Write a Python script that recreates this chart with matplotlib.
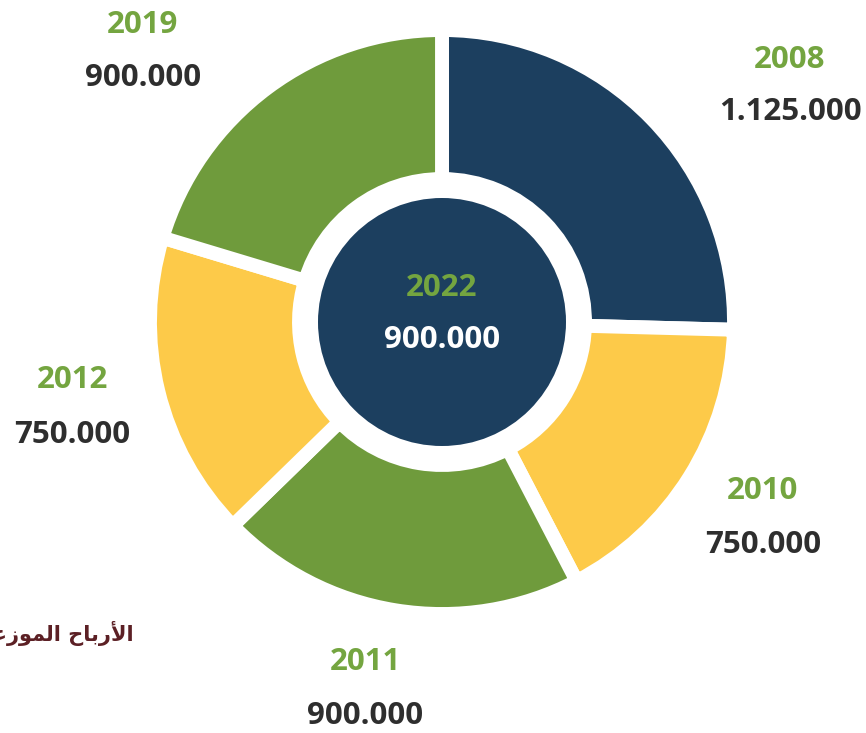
import matplotlib
matplotlib.use("Agg")
import matplotlib.pyplot as plt
from matplotlib.patches import Circle

years = ["2008", "2010", "2011", "2012", "2019"]
values = [1125000, 750000, 900000, 750000, 900000]
value_labels = ["1.125.000", "750.000", "900.000", "750.000", "900.000"]
center_year = "2022"
center_label = "900.000"

# Arabic caption (logical text), rendered with presentation forms in visual order
caption_logical = "الأرباح الموزعة"
caption_visual = ("\uFE94\uFECB\uFEAF\uFEEE\uFEE4\uFEDF\uFE8D" + " " +
                  "\uFEA1\uFE8E\uFE91\uFEAD\uFEF7\uFE8D")

navy = "#1c3f5f"
green = "#6f9b3c"
yellow = "#fdca49"
colors = [navy, yellow, green, yellow, green]
year_color = "#74a540"
value_color = "#2e2e2e"

W, H = 866, 733
fig = plt.figure(figsize=(W / 100, H / 100), dpi=100)
ax = fig.add_axes([0, 0, 1, 1])

cx, cy = 442, H - 322
R = 292
inner = 143
ax.pie(values, colors=colors, startangle=90, counterclock=False,
       center=(cx, cy), radius=R, frame=True,
       wedgeprops=dict(width=R - inner, edgecolor="white", linewidth=10))
ax.set_xlim(0, W)
ax.set_ylim(0, H)
ax.set_aspect("equal")
ax.axis("off")

ax.add_patch(Circle((cx, cy), 124, facecolor=navy, edgecolor="none", zorder=5))

font = "Open Sans"
fs = 22.5
label_pos = {
    "2008": (790, 60, 112),
    "2010": (763, 491, 545),
    "2011": (365, 662, 716),
    "2012": (72, 380, 435),
    "2019": (143, 25, 78),
}
for y, v in zip(years, value_labels):
    x, y1, y2 = label_pos[y]
    ax.text(x, H - y1, y, color=year_color, fontsize=fs, fontweight="bold",
            family=font, ha="center", va="center")
    ax.text(x, H - y2, v, color=value_color, fontsize=fs, fontweight="bold",
            family=font, ha="center", va="center")

ax.text(cx, H - 288, center_year, color=year_color, fontsize=fs, fontweight="bold",
        family=font, ha="center", va="center", zorder=6)
ax.text(cx, H - 340, center_label, color="white", fontsize=fs, fontweight="bold",
        family=font, ha="center", va="center", zorder=6)

ax.text(134, H - 633, caption_visual, color="#5c2025", fontsize=15, fontweight="bold",
        family="DejaVu Sans", ha="right", va="center")

fig.savefig("out.png", dpi=100, facecolor="white")
